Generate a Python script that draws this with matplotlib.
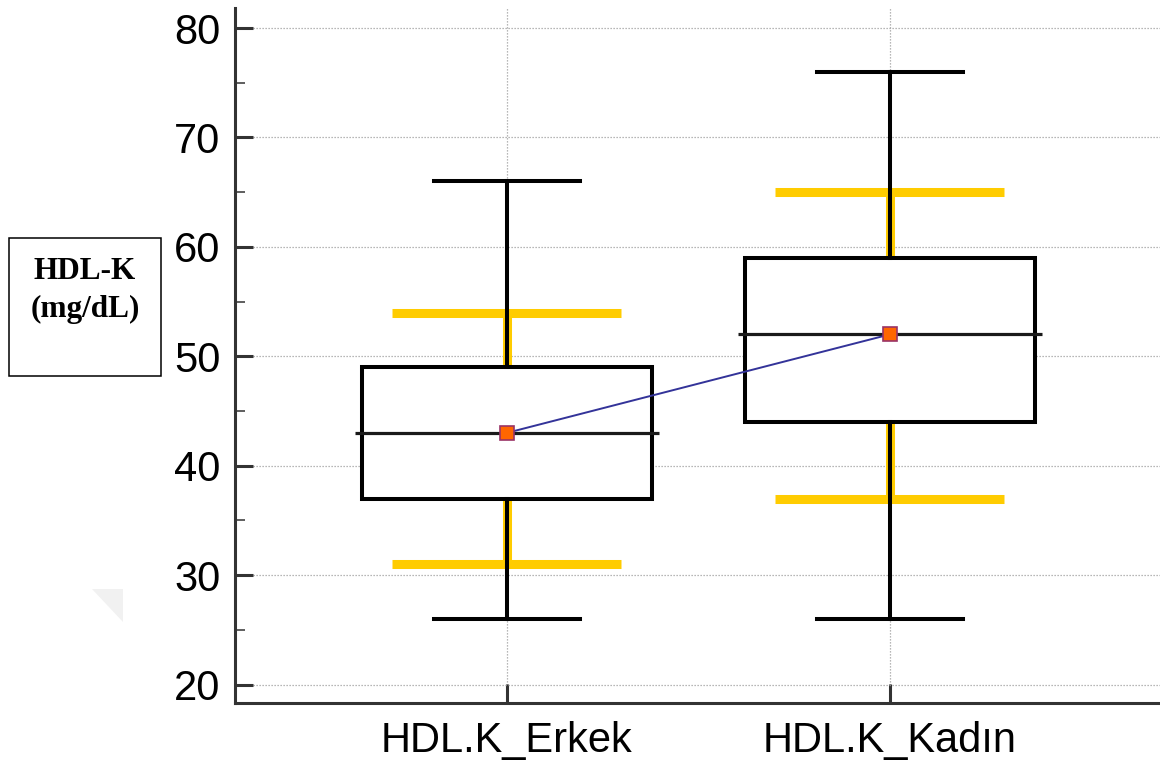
import matplotlib.pyplot as plt
from matplotlib.patches import Rectangle, Polygon
from matplotlib.ticker import MultipleLocator

plt.rcParams['font.family'] = ['Liberation Sans', 'DejaVu Sans']

# data
groups = ["HDL.K_Erkek", "HDL.K_Kadın"]
q1 = [37, 44]
med = [43, 52]
q3 = [49, 59]
whis_lo = [26, 26]
whis_hi = [66, 76]
means = [43, 52]
ref_lo = [31, 37]   # yellow bars
ref_hi = [54, 65]

W, H = 1160, 765
fig = plt.figure(figsize=(W / 100, H / 100), dpi=100)
ax = fig.add_axes([235 / W, 1 - 703 / H, 925 / W, 695 / H])

pos = [1, 2]
stats = []
for i, g in enumerate(groups):
    stats.append(dict(label=g, q1=q1[i], med=med[i], q3=q3[i],
                      whislo=whis_lo[i], whishi=whis_hi[i], fliers=[]))

# grid first
ax.set_axisbelow(True)
ax.grid(True, color="#a0a0a0", linestyle=(0, (1, 1.4)), linewidth=0.9, zorder=0)

# yellow reference bars + stems up/down to box
yel = "#FFCC00"
ax.hlines(ref_hi, [p - 0.299 for p in pos], [p + 0.299 for p in pos], color=yel, lw=6.5, zorder=2)
ax.hlines(ref_lo, [p - 0.299 for p in pos], [p + 0.299 for p in pos], color=yel, lw=6.5, zorder=2)
ax.vlines(pos, q3, ref_hi, color=yel, lw=6.5, zorder=2)
ax.vlines(pos, ref_lo, q1, color=yel, lw=6.5, zorder=2)

ax.bxp(stats, positions=pos, widths=0.755, capwidths=0.379, patch_artist=True,
       showfliers=False, zorder=3,
       boxprops=dict(facecolor="white", edgecolor="black", linewidth=2.9),
       whiskerprops=dict(color="black", linewidth=2.9),
       capprops=dict(color="black", linewidth=2.9),
       medianprops=dict(linestyle="none"))

# medians a bit wider than the boxes
ax.hlines(med, [p - 0.396 for p in pos], [p + 0.396 for p in pos], color="#1a1a1a", lw=2.3, zorder=4)

# means joined by a line
ax.plot(pos, means, color="#333399", lw=1.4, zorder=5)
ax.plot(pos, means, linestyle="none", marker="s", markersize=9.5,
        markerfacecolor="#FF6600", markeredgecolor="#993366", markeredgewidth=1.2, zorder=6)

ax.set_xlim(0.29, 2.705)
ax.set_ylim(18.31, 81.83)
ax.set_xticks(pos)
ax.set_xticklabels(groups)
ax.yaxis.set_major_locator(MultipleLocator(10))
ax.yaxis.set_minor_locator(MultipleLocator(5))

for s in ["top", "right"]:
    ax.spines[s].set_visible(False)
for s in ["left", "bottom"]:
    ax.spines[s].set_color("#333333")
    ax.spines[s].set_linewidth(2.2)

ax.tick_params(axis="y", which="major", direction="in", length=13, width=2.2,
               color="#333333", labelsize=30, pad=10.5)
ax.tick_params(axis="y", which="minor", direction="in", length=7, width=1.1, color="#333333")
ax.tick_params(axis="x", which="major", direction="in", length=13.5, width=2.2,
               color="#333333", labelsize=30, pad=13)

# boxed y label on the left
fig.patches.append(Rectangle((9 / W, 1 - 376 / H), 152 / W, 138 / H, transform=fig.transFigure,
                             facecolor="white", edgecolor="black", linewidth=1.1))
fig.text(85 / W, 1 - 279 / H, "HDL-K", family="Liberation Serif", weight="bold",
         fontsize=22.5, ha="center", va="baseline")
fig.text(85 / W, 1 - 317 / H, "(mg/dL)", family="Liberation Serif", weight="bold",
         fontsize=22.5, ha="center", va="baseline")

# faint grey corner mark
tri = [(92, 589), (123, 589), (123, 622)]
fig.patches.append(Polygon([(x / W, 1 - y / H) for x, y in tri], closed=True,
                           transform=fig.transFigure, facecolor="#f1f1f1", edgecolor="none"))

fig.savefig("out.png", dpi=100)
